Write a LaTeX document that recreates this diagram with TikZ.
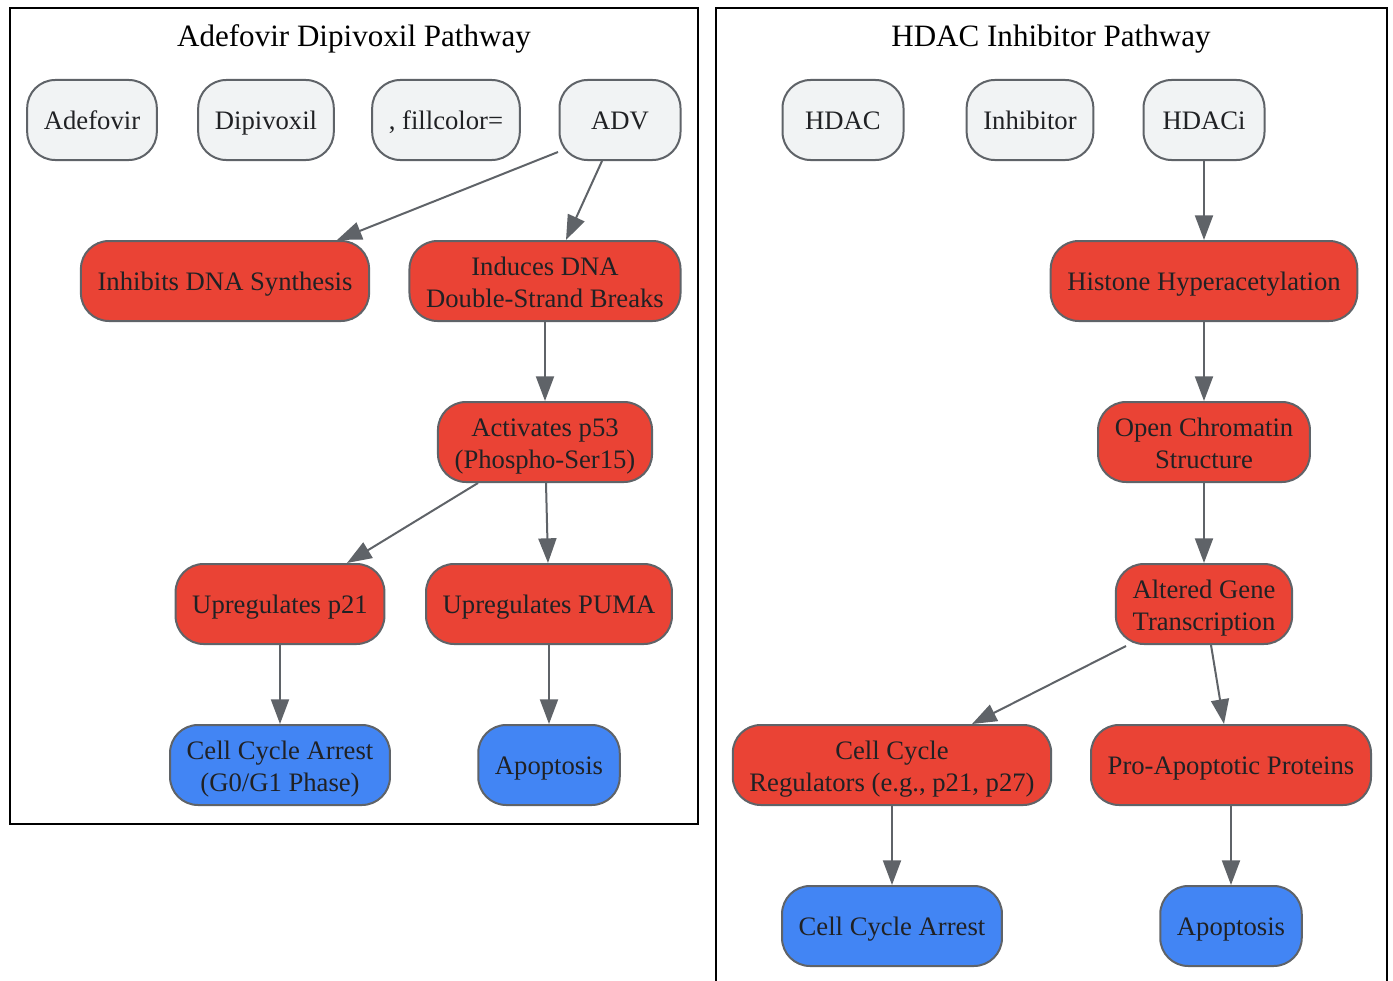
\documentclass[tikz,border=0pt]{standalone}
\usepackage{fontspec}
\setmainfont{Liberation Serif}
\usetikzlibrary{arrows.meta,calc}
\definecolor{nodegray}{HTML}{F1F3F4}
\definecolor{bordergray}{HTML}{5F6368}
\definecolor{gred}{HTML}{EA4335}
\definecolor{gblue}{HTML}{4285F4}
\definecolor{txt}{HTML}{202124}
\newcommand\Ls{\rule[-4.5pt]{0pt}{24pt}}
\tikzset{
  box/.style={draw=bordergray, line width=1.5pt, rounded corners=21pt, minimum height=60pt,
    minimum width=90.75pt, inner xsep=12.5pt, inner ysep=2pt, align=center, text=txt,
    font=\fontsize{20}{24}\selectfont},
  one/.style={text height=18pt, text depth=4.5pt},
  grayb/.style={box, one, fill=nodegray},
  redb/.style={box, fill=gred},
  blueb/.style={box, fill=gblue},
  edge/.style={draw=bordergray, line width=1.5pt, -{Triangle[length=18.5pt, width=13.5pt]}},
  cluster/.style={draw=black, line width=1.5pt},
  ctitle/.style={font=\fontsize{23.3}{27}\selectfont, text=black, anchor=base, inner sep=0pt}
}
\begin{document}
\begin{tikzpicture}[x=0.75pt, y=-0.75pt]
\useasboundingbox (0,0) rectangle (1393,981);
\clip (0,0) rectangle (1393,981);
% clusters
\draw[cluster] (10,8) rectangle (698,824);
\draw[cluster] (716,8) rectangle (1387,1010);
\node[ctitle] (t1) at (354,47) {Adefovir Dipivoxil Pathway};
\node[ctitle] (t2) at (1051,47) {HDAC Inhibitor Pathway};
% left
\node[grayb] (adef) at (92,120) {Adefovir};
\node[grayb] (dipi) at (266,120) {Dipivoxil};
\node[grayb] (fill) at (446,120) {, fillcolor=};
\node[grayb] (adv) at (620,120) {ADV};
\node[redb, one] (inh) at (225,281) {Inhibits DNA Synthesis};
\node[redb] (ind) at (545,281) {\Ls Induces DNA\\\Ls Double-Strand Breaks};
\node[redb] (p53) at (545,442) {\Ls Activates p53\\\Ls (Phospho-Ser15)};
\node[redb, one] (p21) at (280,604) {Upregulates p21};
\node[redb, one] (puma) at (549,604) {Upregulates PUMA};
\node[blueb] (cca1) at (280,765) {\Ls Cell Cycle Arrest\\\Ls (G0/G1 Phase)};
\node[blueb, one] (apo1) at (549,765) {Apoptosis};
% right
\node[grayb] (hdac) at (843,120) {HDAC};
\node[grayb] (inhib) at (1030,120) {Inhibitor};
\node[grayb] (hdaci) at (1204,120) {HDACi};
\node[redb, one] (hist) at (1204,281) {Histone Hyperacetylation};
\node[redb] (open) at (1204,442) {\Ls Open Chromatin\\\Ls Structure};
\node[redb] (alt) at (1204,604) {\Ls Altered Gene\\\Ls Transcription};
\node[redb] (ccr) at (892,765) {\Ls Cell Cycle\\\Ls Regulators (e.g., p21, p27)};
\node[redb, one] (pro) at (1231,765) {Pro-Apoptotic Proteins};
\node[blueb, one] (cca2) at (892,926) {Cell Cycle Arrest};
\node[blueb, one] (apo2) at (1231,926) {Apoptosis};
% edges left
\draw[edge] ($(adv.center)+(-62,32)$) -- ($(inh.north)+(112,0)$);
\draw[edge] ($(adv.south)+(-18,0)$) -- ($(ind.north)+(21,0)$);
\draw[edge] (ind) -- (p53);
\draw[edge] ($(p53.south)+(-67,0)$) -- ($(p21.north)+(67,0)$);
\draw[edge] ($(p53.south)+(1,0)$) -- ($(puma.north)+(-1,0)$);
\draw[edge] (p21) -- (cca1);
\draw[edge] (puma) -- (apo1);
% edges right
\draw[edge] (hdaci) -- (hist);
\draw[edge] (hist) -- (open);
\draw[edge] (open) -- (alt);
\draw[edge] ($(alt.south)+(-78,1)$) -- ($(ccr.north)+(80,0)$);
\draw[edge] ($(alt.south)+(7,0)$) -- ($(pro.north)+(-7,0)$);
\draw[edge] (ccr) -- (cca2);
\draw[edge] (pro) -- (apo2);
\end{tikzpicture}
\end{document}
